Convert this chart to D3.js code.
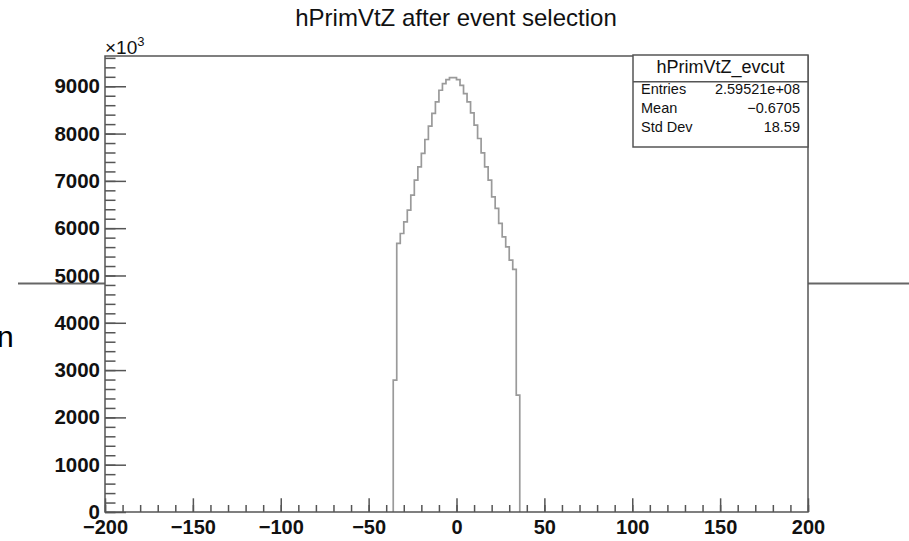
<!DOCTYPE html>
<html>
<head>
<meta charset="utf-8">
<script src="https://cdn.jsdelivr.net/npm/d3@7"></script>
<style>
  html, body { margin: 0; padding: 0; background: #fff; }
  svg { display: block; font-family: "Liberation Sans", Arial, Helvetica, sans-serif; }
</style>
</head>
<body>
<svg id="chart"></svg>
<script>
// histogram bins (width 2), counts in units of 10^3
const binCenters = [-35, -33, -31, -29, -27, -25, -23, -21, -19, -17, -15, -13,
  -11, -9, -7, -5, -3, -1, 1, 3, 5, 7, 9, 11, 13, 15, 17, 19, 21, 23, 25, 27,
  29, 31, 33, 35];
const binCounts = [2790, 5677, 5888, 6134, 6381, 6698, 7015, 7297, 7580, 7875,
  8156, 8425, 8670, 8916, 9057, 9141, 9184, 9184, 9141, 9021, 8846, 8670, 8437,
  8177, 7896, 7592, 7296, 7015, 6663, 6417, 6100, 5818, 5606, 5325, 5128, 2472];
const binWidth = 2;

const xMajorTicks = [-200, -150, -100, -50, 0, 50, 100, 150, 200];
const yMajorTicks = [0, 1000, 2000, 3000, 4000, 5000, 6000, 7000, 8000, 9000];

const titleText = "hPrimVtZ after event selection";
const statsName = "hPrimVtZ_evcut";
const statsLabels = ["Entries", "Mean", "Std Dev"];
const statsValues = ["2.59521e+08", "\u22120.6705", "18.59"];

const width = 909;
const height = 541;
const margin = { top: 56, right: 101, bottom: 29, left: 105 };
const frameColor = "#555";

const svg = d3.select("#chart").attr("width", width).attr("height", height);

const x = d3.scaleLinear()
  .domain([-200, 200])
  .range([margin.left, width - margin.right]);

const y = d3.scaleLinear()
  .domain([0, 9640])
  .range([height - margin.bottom, margin.top]);

// stray lines from the page behind the canvas
svg.append("line")
  .attr("x1", 18).attr("x2", margin.left)
  .attr("y1", 283.5).attr("y2", 283.5)
  .attr("stroke", "#666").attr("stroke-width", 2);
svg.append("line")
  .attr("x1", width - margin.right).attr("x2", width)
  .attr("y1", 283.5).attr("y2", 283.5)
  .attr("stroke", "#666").attr("stroke-width", 2);
svg.append("text")
  .attr("x", -3).attr("y", 347)
  .style("font-size", "30px")
  .attr("fill", "#000")
  .text("n");

// histogram outline
const pts = [];
binCenters.forEach((c, i) => {
  const lo = c - binWidth / 2;
  const hi = c + binWidth / 2;
  if (i === 0) pts.push([x(lo), y(0)]);
  pts.push([x(lo), y(binCounts[i])]);
  pts.push([x(hi), y(binCounts[i])]);
  if (i === binCenters.length - 1) pts.push([x(hi), y(0)]);
});

svg.append("path")
  .attr("d", d3.line()(pts))
  .attr("fill", "none")
  .attr("stroke", "#9a9a9a")
  .attr("stroke-width", 1.7);

// X axis (ticks point inward, ROOT style)
const xMinor = d3.range(-200, 201, 10);
svg.append("g")
  .attr("transform", `translate(0,${y(0)})`)
  .call(d3.axisBottom(x).tickValues(xMinor).tickFormat("").tickSizeInner(-7).tickSizeOuter(0))
  .call(g => g.select(".domain").remove())
  .call(g => g.selectAll("line").attr("stroke", frameColor).attr("stroke-width", 1.5));

svg.append("g")
  .attr("transform", `translate(0,${y(0)})`)
  .call(d3.axisBottom(x).tickValues(xMajorTicks).tickSizeInner(-13.7).tickSizeOuter(0).tickPadding(8))
  .call(g => g.select(".domain").remove())
  .call(g => g.selectAll("line").attr("stroke", frameColor).attr("stroke-width", 1.5))
  .call(g => g.selectAll("text")
    .attr("fill", "#111")
    .style("font-size", "20px")
    .style("font-weight", "bold")
    .style("font-family", "'Liberation Sans', Arial, sans-serif"));

// Y axis
const yMinor = d3.range(0, 9601, 200);
svg.append("g")
  .attr("transform", `translate(${x(-200)},0)`)
  .call(d3.axisLeft(y).tickValues(yMinor).tickFormat("").tickSizeInner(-10.5).tickSizeOuter(0))
  .call(g => g.select(".domain").remove())
  .call(g => g.selectAll("line").attr("stroke", frameColor).attr("stroke-width", 1.5));

svg.append("g")
  .attr("transform", `translate(${x(-200)},0)`)
  .call(d3.axisLeft(y).tickValues(yMajorTicks).tickFormat(d3.format("d")).tickSizeInner(-21).tickSizeOuter(0).tickPadding(5))
  .call(g => g.select(".domain").remove())
  .call(g => g.selectAll("line").attr("stroke", frameColor).attr("stroke-width", 1.5))
  .call(g => g.selectAll("text")
    .attr("fill", "#111")
    .style("font-size", "20.5px")
    .style("font-weight", "bold")
    .style("font-family", "'Liberation Sans', Arial, sans-serif"));

// exponent label
const expo = svg.append("text")
  .attr("x", x(-200))
  .attr("y", 54)
  .attr("fill", "#111")
  .style("font-size", "19px");
expo.append("tspan").text("\u00d710");
expo.append("tspan").attr("dy", -8).style("font-size", "13px").text("3");

// frame
svg.append("rect")
  .attr("x", x(-200)).attr("y", y(9640))
  .attr("width", x(200) - x(-200))
  .attr("height", y(0) - y(9640))
  .attr("fill", "none")
  .attr("stroke", frameColor)
  .attr("stroke-width", 1.5);

// title
svg.append("text")
  .attr("x", 456)
  .attr("y", 26)
  .attr("text-anchor", "middle")
  .attr("fill", "#111")
  .style("font-size", "24px")
  .text(titleText);

// stats box
const box = { x0: 633, x1: x(200), y0: 55, y1: 147, sep: 81.7 };
const stats = svg.append("g");
stats.append("rect")
  .attr("x", box.x0).attr("y", box.y0)
  .attr("width", box.x1 - box.x0).attr("height", box.y1 - box.y0)
  .attr("fill", "#fff")
  .attr("stroke", frameColor)
  .attr("stroke-width", 1.5);
stats.append("line")
  .attr("x1", box.x0).attr("x2", box.x1)
  .attr("y1", box.sep).attr("y2", box.sep)
  .attr("stroke", frameColor)
  .attr("stroke-width", 1.5);
stats.append("text")
  .attr("x", (box.x0 + box.x1) / 2)
  .attr("y", 73)
  .attr("text-anchor", "middle")
  .attr("fill", "#111")
  .style("font-size", "18px")
  .text(statsName);

const rowY = d3.scalePoint().domain(statsLabels).range([94, 132]);
stats.selectAll("text.lab")
  .data(statsLabels)
  .enter()
  .append("text")
  .attr("class", "lab")
  .attr("x", box.x0 + 8)
  .attr("y", d => rowY(d))
  .attr("fill", "#111")
  .style("font-size", "14.5px")
  .text(d => d);
stats.selectAll("text.val")
  .data(statsValues)
  .enter()
  .append("text")
  .attr("class", "val")
  .attr("x", box.x1 - 8)
  .attr("y", (d, i) => rowY(statsLabels[i]))
  .attr("text-anchor", "end")
  .attr("fill", "#111")
  .style("font-size", "14.5px")
  .text(d => d);
</script>
</body>
</html>
